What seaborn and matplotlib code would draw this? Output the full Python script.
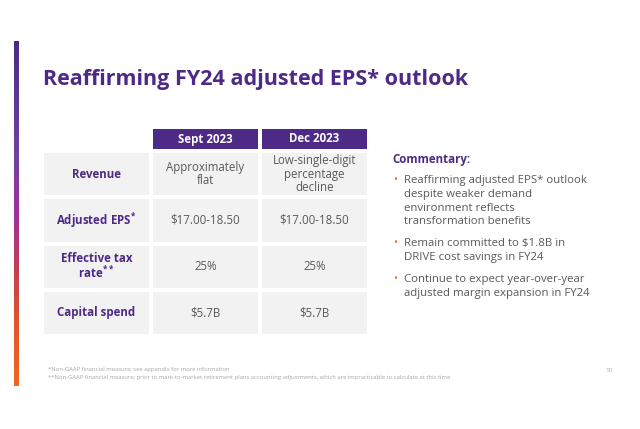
import numpy as np
import matplotlib
matplotlib.use("Agg")
import matplotlib.pyplot as plt
from matplotlib.colors import ListedColormap, LinearSegmentedColormap
import seaborn as sns

# slide content
title = "Reaffirming FY24 adjusted EPS* outlook"
columns = ["Sept 2023", "Dec 2023"]
row_labels = ["Revenue", "Adjusted EPS$^{*}$", "Effective tax\nrate$^{**}$", "Capital spend"]
sept_values = ["Approximately\nflat", "$17.00-18.50", "25%", "$5.7B"]
dec_values = ["Low-single-digit\npercentage\ndecline", "$17.00-18.50", "25%", "$5.7B"]
commentary_head = "Commentary:"
commentary = [
    "Reaffirming adjusted EPS* outlook\ndespite weaker demand\nenvironment reflects\ntransformation benefits",
    "Remain committed to $1.8B in\nDRIVE cost savings in FY24",
    "Continue to expect year-over-year\nadjusted margin expansion in FY24",
]
footnotes = [
    "*Non-GAAP financial measure; see appendix for more information",
    "**Non-GAAP financial measure; prior to mark-to-market retirement plans accounting adjustments, which are impracticable to calculate at this time",
]
page_no = "10"

PURPLE = "#4D2A85"
GRAY_TXT = "#595959"
CELL = "#F2F2F2"
ORANGE = "#F26522"

sns.set_theme(style="white")
plt.rcParams["font.family"] = ["Open Sans", "DejaVu Sans"]
plt.rcParams["mathtext.default"] = "regular"

W, H = 640, 429
fig = plt.figure(figsize=(6.4, 4.29), dpi=100)
fig.patch.set_facecolor("white")

ax = fig.add_axes([0, 0, 1, 1])
ax.set_xlim(0, W)
ax.set_ylim(H, 0)
ax.axis("off")


def px_rect(x0, y0, x1, y1):
    return [x0 / W, 1 - y1 / H, (x1 - x0) / W, (y1 - y0) / H]


# left gradient stripe
grad = LinearSegmentedColormap.from_list(
    "stripe", ["#4B2A86", "#5E3799", "#6E42A2", "#A0309B", "#C2404F", "#E2562C", ORANGE]
)
ax.imshow(np.linspace(0, 1, 256).reshape(-1, 1), cmap=grad, aspect="auto",
          extent=(14, 19, 386, 41), zorder=2)

# title
ax.text(43, 85, title, fontsize=15.5, fontweight="bold", color=PURPLE,
        ha="left", va="baseline")

# table header
ax_h = fig.add_axes(px_rect(151, 127, 369, 151))
sns.heatmap(np.ones((1, 2)), ax=ax_h, cmap=ListedColormap([PURPLE]), cbar=False,
            linewidths=1.5, linecolor="white", xticklabels=False, yticklabels=False)
for j, c in enumerate(columns):
    ax_h.text(j + 0.5, 0.5, c, ha="center", va="center", color="white",
              fontsize=8.3, fontweight="bold")

# table body
ax_b = fig.add_axes(px_rect(42, 151, 369, 336))
sns.heatmap(np.zeros((len(row_labels), 3)), ax=ax_b, cmap=ListedColormap([CELL]),
            cbar=False, linewidths=1.5, linecolor="white",
            xticklabels=False, yticklabels=False)
for i in range(len(row_labels)):
    ax_b.text(0.5, i + 0.5, row_labels[i], ha="center", va="center", color=PURPLE,
              fontsize=8.3, fontweight="bold", linespacing=1.05)
    ax_b.text(1.5, i + 0.5, sept_values[i], ha="center", va="center", color=GRAY_TXT,
              fontsize=8.3, linespacing=1.05)
    ax_b.text(2.5, i + 0.5, dec_values[i], ha="center", va="center", color=GRAY_TXT,
              fontsize=8.3, linespacing=1.05)

# commentary
ax.text(392, 159, commentary_head, fontsize=8.3, fontweight="bold", color=PURPLE,
        ha="left", va="center")
y = 181
for item in commentary:
    ax.text(393, y, "\u2022", fontsize=7.5, color=ORANGE, ha="left", va="center")
    for line in item.split("\n"):
        ax.text(404, y, line, fontsize=8.2, color=GRAY_TXT, ha="left", va="center")
        y += 13.6
    y += 8.5

# footnotes and page number
for k, note in enumerate(footnotes):
    ax.text(48, 370 + 7 * k, note, fontsize=4.2, color="#A6A6A6", ha="left", va="center")
ax.text(609, 371, page_no, fontsize=4.5, color="#A6A6A6", ha="center", va="center")

fig.savefig("out.png", dpi=100, facecolor="white")
